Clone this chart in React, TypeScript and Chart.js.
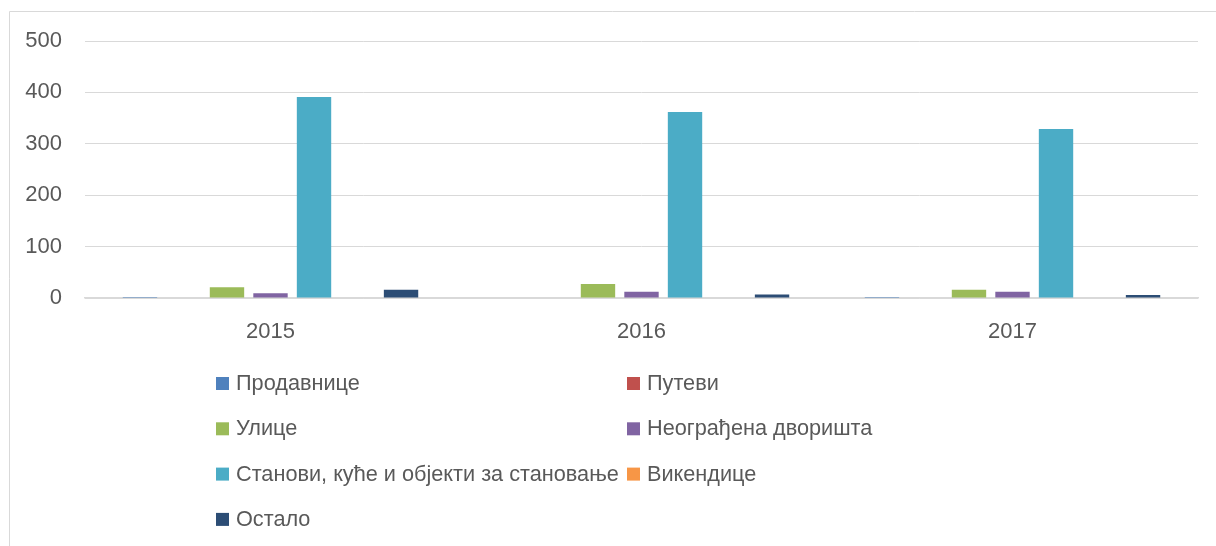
import React, { useEffect, useRef } from "react";
import { Chart, registerables } from "chart.js";

Chart.register(...registerables);

const categories = ["2015", "2016", "2017"];
const seriesNames = [
  "Продавнице",
  "Путеви",
  "Улице",
  "Неограђена дворишта",
  "Станови, куће и објекти за становање",
  "Викендице",
  "Остало",
];
const prodavnice = [2, 1, 2];
const putevi = [0, 1, 1];
const ulice = [21, 27, 16];
const neogradjena = [9, 12, 12];
const stanovi = [391, 362, 329];
const vikendice = [0, 1, 0];
const ostalo = [16, 7, 6];
const seriesValues = [prodavnice, putevi, ulice, neogradjena, stanovi, vikendice, ostalo];
const seriesColors = ["#4F81BD", "#C0504D", "#9BBB59", "#8064A2", "#4BACC6", "#F79646", "#2C4D75"];
const yTicks = [0, 100, 200, 300, 400, 500];

const FONT = "'Liberation Sans', Arial, sans-serif";
const TEXT = "#595959";

const frameAndLegend = {
  id: "frameAndLegend",
  beforeDraw(chart: any) {
    const ctx = chart.ctx;
    ctx.save();
    ctx.strokeStyle = "#d9d9d9";
    ctx.lineWidth = 1;
    ctx.beginPath();
    ctx.moveTo(9.5, chart.height);
    ctx.lineTo(9.5, 11.5);
    ctx.lineTo(chart.width, 11.5);
    ctx.stroke();
    ctx.restore();
  },
  afterDraw(chart: any) {
    const ctx = chart.ctx;
    ctx.save();
    ctx.font = `21.7px ${FONT}`;
    ctx.textBaseline = "middle";
    ctx.textAlign = "left";
    const cols = [216, 627];
    const rowY0 = 384;
    const rowStep = 45.3;
    chart.data.datasets.forEach((ds: any, i: number) => {
      const col = i % 2;
      const row = Math.floor(i / 2);
      const x = cols[col];
      const y = rowY0 + row * rowStep;
      ctx.fillStyle = ds.backgroundColor;
      ctx.fillRect(x, y - 7, 13, 13);
      ctx.fillStyle = TEXT;
      ctx.fillText(ds.label, x + 20, y);
    });
    ctx.restore();
  },
};

export default function App() {
  const ref = useRef<HTMLCanvasElement>(null);
  useEffect(() => {
    document.body.style.margin = "0";
    const canvas = ref.current!;
    const chart = new Chart(canvas, {
      type: "bar",
      data: {
        labels: categories,
        datasets: seriesNames.map((name, i) => ({
          label: name,
          data: seriesValues[i],
          backgroundColor: seriesColors[i],
          borderWidth: 0,
          categoryPercentage: 0.821,
          barPercentage: 0.79,
        })),
      },
      options: {
        animation: false,
        responsive: false,
        maintainAspectRatio: false,
        layout: { padding: { left: 0, right: 18, top: 41, bottom: 208 } },
        plugins: {
          legend: { display: false },
          tooltip: { enabled: false },
        },
        scales: {
          x: {
            grid: { display: false, drawTicks: false },
            border: { display: true, color: "#d9d9d9", width: 1.5 },
            ticks: { color: TEXT, font: { family: FONT, size: 22 }, padding: 21 },
            afterFit: (s: any) => {
              s.height = 40;
            },
          },
          y: {
            min: 0,
            max: 500,
            afterBuildTicks: (s: any) => {
              s.ticks = yTicks.map((v) => ({ value: v }));
            },
            grid: { color: "#d9d9d9", lineWidth: 1, drawTicks: false },
            border: { display: false },
            ticks: { color: TEXT, font: { family: FONT, size: 22 }, padding: 23 },
            afterFit: (s: any) => {
              s.width = 85;
            },
          },
        },
      },
      plugins: [frameAndLegend],
    });
    return () => chart.destroy();
  }, []);
  return (
    <div style={{ width: 1216, height: 546, overflow: "hidden" }}>
      <canvas ref={ref} width={1216} height={546} style={{ display: "block" }} />
    </div>
  );
}
